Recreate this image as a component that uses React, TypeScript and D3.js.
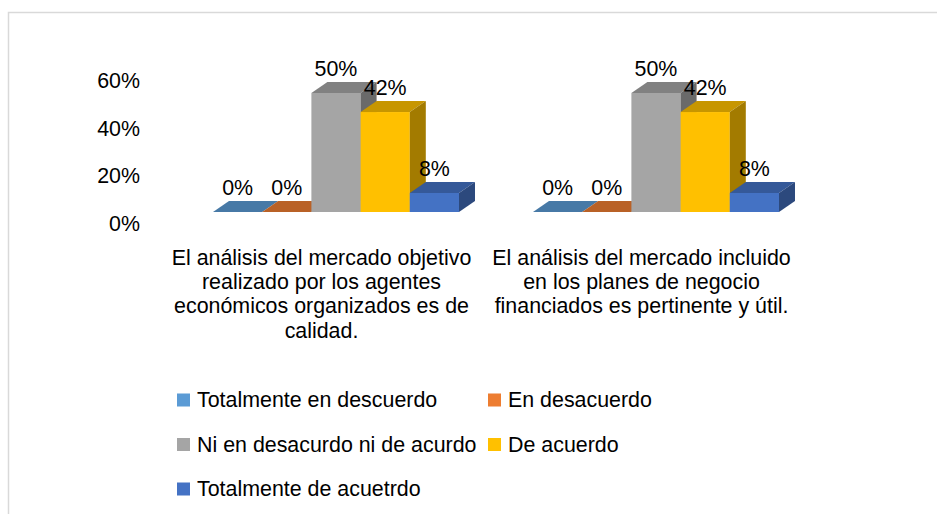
import React from 'react';
import * as d3 from 'd3';

const categories = ['cat1', 'cat2'];
const categoryLines = [
  ['El análisis del mercado objetivo', 'realizado por los agentes', 'económicos organizados es de', 'calidad.'],
  ['El análisis del mercado incluido', 'en los planes de negocio', 'financiados es pertinente y útil.']
];
const seriesNames = [
  'Totalmente en descuerdo',
  'En desacuerdo',
  'Ni en desacurdo ni de acurdo',
  'De acuerdo',
  'Totalmente de acuetrdo'
];
const seriesColors = ['#5b9bd5', '#ed7d31', '#a5a5a5', '#ffc000', '#4472c4'];
// values per category, one per series
const values = [
  [0, 0, 0.5, 0.42, 0.08],
  [0, 0, 0.5, 0.42, 0.08]
];
const yTicks = [0, 0.2, 0.4, 0.6];

const W = 937, H = 514;
const FONT = '"Liberation Sans", Arial, sans-serif';
const FS = 21.4;
const DX = 16, DY = 11;

export default function App() {
  const x = d3.scaleBand().domain(categories).range([176, 816]).paddingInner(0.23125).paddingOuter(0.115625);
  const xs = d3.scaleBand().domain(seriesNames).range([0, x.bandwidth()]).padding(0);
  const y = d3.scaleLinear().domain([0, 0.6]).range([212, 212 - 0.6 * 238]);
  const pct = d3.format('.0%');

  const bars = [];
  categories.forEach((c, ci) => {
    seriesNames.forEach((s, si) => {
      const v = values[ci][si];
      const x0 = x(c) + xs(s);
      const x1 = x0 + xs.bandwidth();
      const yt = y(v), yb = y(0);
      const col = d3.color(seriesColors[si]);
      const top = col.darker(0.7).formatHex();
      const side = col.darker(1.25).formatHex();
      bars.push(
        <g key={c + s}>
          <rect x={x0} y={yt} width={x1 - x0} height={yb - yt} fill={seriesColors[si]} />
          <polygon points={`${x0},${yt} ${x1},${yt} ${x1 + DX},${yt - DY} ${x0 + DX},${yt - DY}`} fill={top} />
          <polygon points={`${x1},${yt} ${x1 + DX},${yt - DY} ${x1 + DX},${yb - DY} ${x1},${yb}`} fill={side} />
        </g>
      );
    });
  });

  const labels = [];
  categories.forEach((c, ci) => {
    seriesNames.forEach((s, si) => {
      const v = values[ci][si];
      labels.push(
        <text key={'l' + c + s} x={x(c) + xs(s) + xs.bandwidth() / 2} y={y(v) - DY - 13}
          textAnchor="middle" dominantBaseline="central">{pct(v)}</text>
      );
    });
  });

  const legendRows = [400, 444.5, 489];
  const legendCols = [177, 488];

  return (
    <div style={{ position: 'fixed', left: 0, top: 0, width: W, height: H, background: '#fff' }}>
      <svg width={W} height={H} style={{ display: 'block' }} fontFamily={FONT} fontSize={FS} fill="#000">
        <rect x={8.5} y={12.5} width={W + 20} height={H + 20} fill="#fff" stroke="#d9d9d9" strokeWidth={1.5} />
        {yTicks.map(t => (
          <text key={t} x={140} y={y(t) + 12} textAnchor="end" dominantBaseline="central">{pct(t)}</text>
        ))}
        {bars}
        {labels}
        {categories.map((c, ci) => (
          <text key={'c' + c} textAnchor="middle">
            {categoryLines[ci].map((line, li) => (
              <tspan key={li} x={x(c) + x.bandwidth() / 2 - 14.5} y={265 + li * 24.2}>{line}</tspan>
            ))}
          </text>
        ))}
        {seriesNames.map((s, i) => {
          const lx = legendCols[i % 2];
          const ly = legendRows[Math.floor(i / 2)];
          return (
            <g key={'lg' + s}>
              <rect x={lx} y={ly - 6.5} width={13} height={13} fill={seriesColors[i]} />
              <text x={lx + 20} y={ly} dominantBaseline="central">{s}</text>
            </g>
          );
        })}
      </svg>
    </div>
  );
}
